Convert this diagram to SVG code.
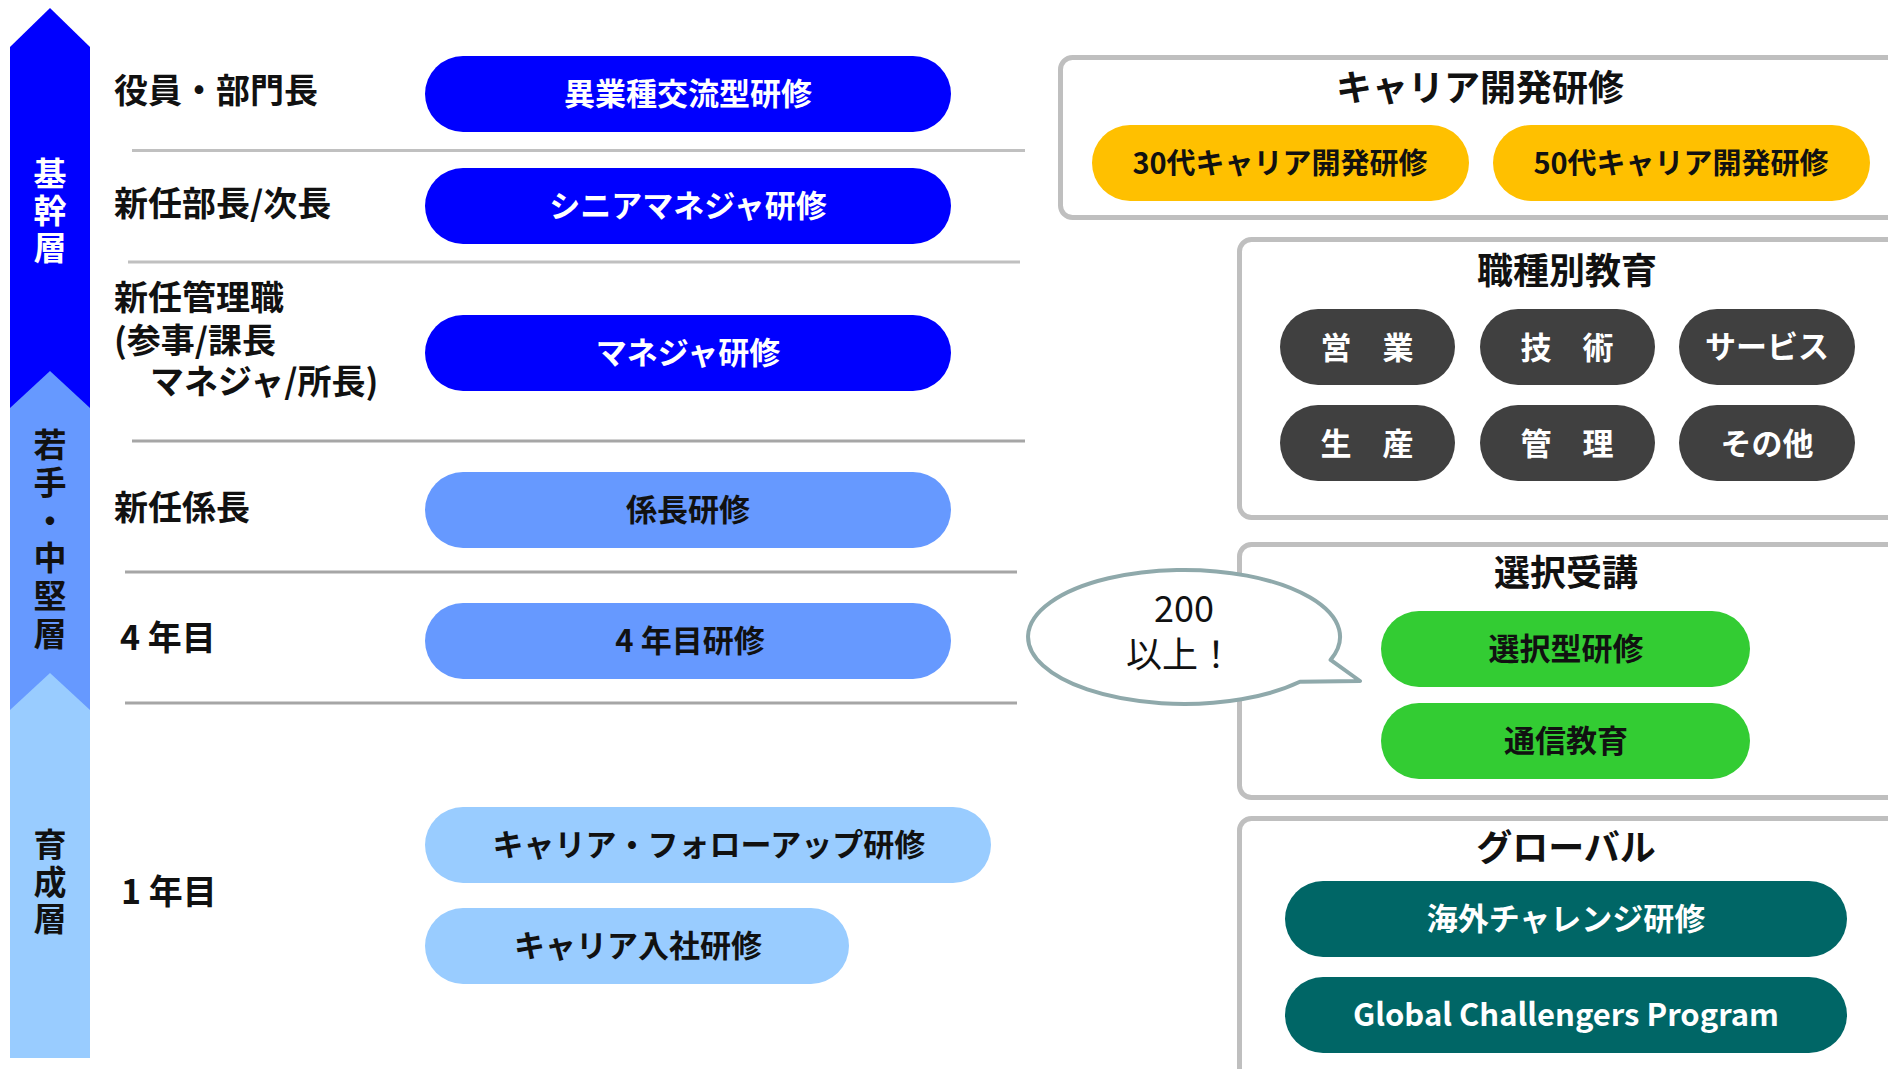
<svg xmlns="http://www.w3.org/2000/svg" width="1888" height="1069" viewBox="0 0 1888 1069">
<style>
text{font-family:"Noto Sans CJK JP","Noto Sans",sans-serif;font-weight:bold;}
.lbl{font-size:34px;fill:#111;}
.arw{font-size:33px;writing-mode:vertical-rl;text-orientation:upright;}
.pt{font-size:31px;text-anchor:middle;}
.w{fill:#fff;}
.k{fill:#111;}
.sep{stroke-width:3;}
.box{fill:#fff;stroke:#BFBFBF;stroke-width:5;}
.ttl{font-size:36px;text-anchor:middle;fill:#111;}
.dk{fill:#404040;}
</style>
<rect width="1888" height="1069" fill="#fff"/>

<g id="level-arrow">
<polygon points="50,8 90,47 90,412 10,412 10,47" fill="#0000FF"/>
<polygon points="50,371 90,408 90,714 10,714 10,408" fill="#6699FF"/>
<polygon points="50,673 90,710 90,1058 10,1058 10,710" fill="#99CCFF"/>
<text class="arw w" x="50" y="157" letter-spacing="4">基幹層</text>
<text class="arw k" x="50" y="428" letter-spacing="4.8">若手・中堅層</text>
<text class="arw k" x="50" y="828" letter-spacing="4">育成層</text>
</g>

<g id="separators">
<line class="sep" x1="132" y1="150.5" x2="1025" y2="150.5" stroke="#C0C0C0"/>
<line class="sep" x1="128" y1="262" x2="1020" y2="262" stroke="#C0C0C0"/>
<line class="sep" x1="132" y1="441" x2="1025" y2="441" stroke="#A6A6A6"/>
<line class="sep" x1="125" y1="572" x2="1017" y2="572" stroke="#A6A6A6"/>
<line class="sep" x1="125" y1="703" x2="1017" y2="703" stroke="#A6A6A6"/>
</g>

<g id="labels">
<text class="lbl" x="114" y="103">役員・部門長</text>
<text class="lbl" x="114" y="216">新任部長/次長</text>
<text class="lbl" x="114" y="310">新任管理職</text>
<text class="lbl" x="114" y="353">(参事/課長</text>
<text class="lbl" x="150" y="394">マネジャ/所長)</text>
<text class="lbl" x="114" y="520">新任係長</text>
<text class="lbl" x="120" y="650">4 年目</text>
<text class="lbl" x="121" y="904">1 年目</text>
</g>

<g id="pill-ibgyoshu">
<rect x="425" y="56" width="526" height="76" rx="38" fill="#0000FF"/>
<text class="pt w" x="688" y="105">異業種交流型研修</text>
</g>
<g id="pill-senior">
<rect x="425" y="168" width="526" height="76" rx="38" fill="#0000FF"/>
<text class="pt w" x="688" y="217">シニアマネジャ研修</text>
</g>
<g id="pill-manager">
<rect x="425" y="315" width="526" height="76" rx="38" fill="#0000FF"/>
<text class="pt w" x="688" y="364">マネジャ研修</text>
</g>
<g id="pill-kakaricho">
<rect x="425" y="472" width="526" height="76" rx="38" fill="#6699FF"/>
<text class="pt k" x="688" y="521">係長研修</text>
</g>
<g id="pill-4nen">
<rect x="425" y="603" width="526" height="76" rx="38" fill="#6699FF"/>
<text class="pt k" x="690" y="652">4 年目研修</text>
</g>
<g id="pill-followup">
<rect x="425" y="807" width="566" height="76" rx="38" fill="#99CCFF"/>
<text class="pt k" x="709" y="856">キャリア・フォローアップ研修</text>
</g>
<g id="pill-nyusha">
<rect x="425" y="908" width="424" height="76" rx="38" fill="#99CCFF"/>
<text class="pt k" x="638" y="957">キャリア入社研修</text>
</g>

<g id="box-career">
<rect class="box" x="1060.5" y="57.5" width="900" height="160" rx="12"/>
<text class="ttl" x="1480" y="101">キャリア開発研修</text>
<rect x="1092" y="125" width="377" height="76" rx="38" fill="#FFC000"/>
<text x="1280" y="174" font-size="29" text-anchor="middle" fill="#111">30代キャリア開発研修</text>
<rect x="1493" y="125" width="377" height="76" rx="38" fill="#FFC000"/>
<text x="1681" y="174" font-size="29" text-anchor="middle" fill="#111">50代キャリア開発研修</text>
</g>

<g id="box-shokushu">
<rect class="box" x="1239.5" y="239.5" width="700" height="278" rx="12"/>
<text class="ttl" x="1567" y="284">職種別教育</text>
<rect class="dk" x="1280" y="309" width="175" height="76" rx="38"/>
<rect class="dk" x="1480" y="309" width="175" height="76" rx="38"/>
<rect class="dk" x="1679" y="309" width="176" height="76" rx="38"/>
<rect class="dk" x="1280" y="405" width="175" height="76" rx="38"/>
<rect class="dk" x="1480" y="405" width="175" height="76" rx="38"/>
<rect class="dk" x="1679" y="405" width="176" height="76" rx="38"/>
<text class="pt w" font-size="32" x="1367" y="359">営　業</text>
<text class="pt w" font-size="32" x="1567" y="359">技　術</text>
<text class="pt w" font-size="29" x="1767" y="358">サービス</text>
<text class="pt w" font-size="32" x="1367" y="455">生　産</text>
<text class="pt w" font-size="32" x="1567" y="455">管　理</text>
<text class="pt w" font-size="32" x="1767" y="455">その他</text>
</g>

<g id="box-sentaku">
<rect class="box" x="1239.5" y="544.5" width="700" height="253" rx="12"/>
<text class="ttl" x="1566" y="586">選択受講</text>
<rect x="1381" y="611" width="369" height="76" rx="38" fill="#33CC33"/>
<text class="pt k" x="1566" y="660">選択型研修</text>
<rect x="1381" y="703" width="369" height="76" rx="38" fill="#33CC33"/>
<text class="pt k" x="1566" y="752">通信教育</text>
</g>

<g id="box-global">
<rect class="box" x="1239.5" y="818.5" width="700" height="300" rx="12"/>
<text class="ttl" x="1566" y="861">グローバル</text>
<rect x="1285" y="881" width="562" height="76" rx="38" fill="#006666"/>
<text class="pt w" x="1566" y="930">海外チャレンジ研修</text>
<rect x="1285" y="977" width="562" height="76" rx="38" fill="#006666"/>
<text class="pt w" x="1566" y="1026">Global Challengers Program</text>
</g>

<g id="bubble">
<path d="M 1330.6 659.9 L 1360 681 L 1299.9 681.8 A 156 67 0 1 1 1330.6 659.9 Z" fill="#fff" stroke="#8FA9AB" stroke-width="4" stroke-linejoin="round"/>
<text x="1184" y="622" font-size="36" text-anchor="middle" fill="#111" style="font-weight:normal">200</text>
<text x="1180" y="668" font-size="36" text-anchor="middle" fill="#111" style="font-weight:normal">以上！</text>
</g>
</svg>
